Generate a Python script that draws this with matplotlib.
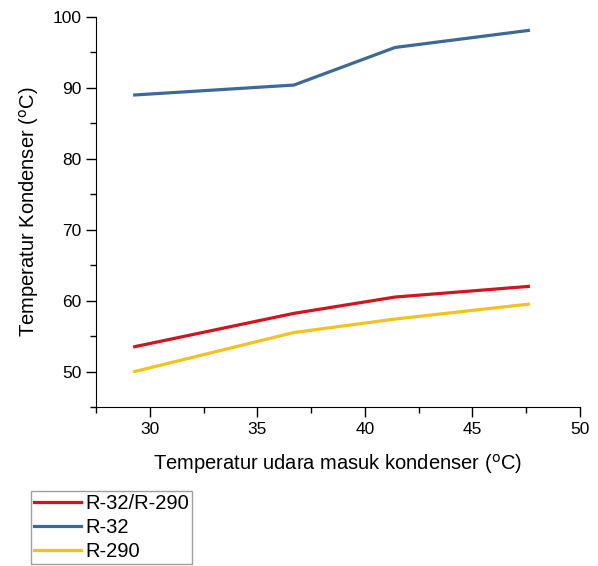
import numpy as np
import matplotlib
matplotlib.use('Agg')
import matplotlib.pyplot as plt
from matplotlib.ticker import MultipleLocator

plt.rcParams['font.family'] = ['Liberation Sans', 'DejaVu Sans']

# data
t_air = [29.3, 36.7, 41.4, 47.6]
r32_r290 = [53.5, 58.2, 60.5, 62.0]
r32 = [89.0, 90.4, 95.7, 98.1]
r290 = [50.0, 55.5, 57.4, 59.5]
labels = ['R-32/R-290', 'R-32', 'R-290']
colors = ['#d2141e', '#3c6a98', '#f4c21e']

fig = plt.figure(figsize=(5.98, 5.66), dpi=100)
ax = fig.add_axes([0.1605, 0.281, 0.8095, 0.689])

for y, l, c in zip([r32_r290, r32, r290], labels, colors):
    ax.plot(t_air, y, '-', color=c, lw=2.3, label=l)

ax.set_xlim(27.5, 50)
ax.set_ylim(45, 100)
ax.xaxis.set_major_locator(MultipleLocator(5))
ax.xaxis.set_minor_locator(MultipleLocator(2.5))
ax.yaxis.set_major_locator(MultipleLocator(10))
ax.yaxis.set_minor_locator(MultipleLocator(5))
ax.tick_params(which='major', direction='out', length=7, width=1, labelsize=12.5)
ax.tick_params(which='minor', direction='out', length=4, width=1)
for s in ['top', 'right']:
    ax.spines[s].set_visible(False)
ax.set_xlabel('Temperatur udara masuk kondenser ($^{\\rm o}$C)', fontsize=14.5, labelpad=11)
ax.set_ylabel('Temperatur Kondenser ($^{\\rm o}$C)', fontsize=14.5, labelpad=8)

leg = fig.legend(loc='upper left', bbox_to_anchor=(0.052, 0.133), fontsize=14.5,
                 handlelength=2.35, handletextpad=0.2, labelspacing=0.25,
                 borderpad=0.15, borderaxespad=0, fancybox=False, frameon=True)
leg.get_frame().set_edgecolor('#888888')
leg.get_frame().set_linewidth(1)

fig.savefig('out.png', dpi=100)
plt.close(fig)
